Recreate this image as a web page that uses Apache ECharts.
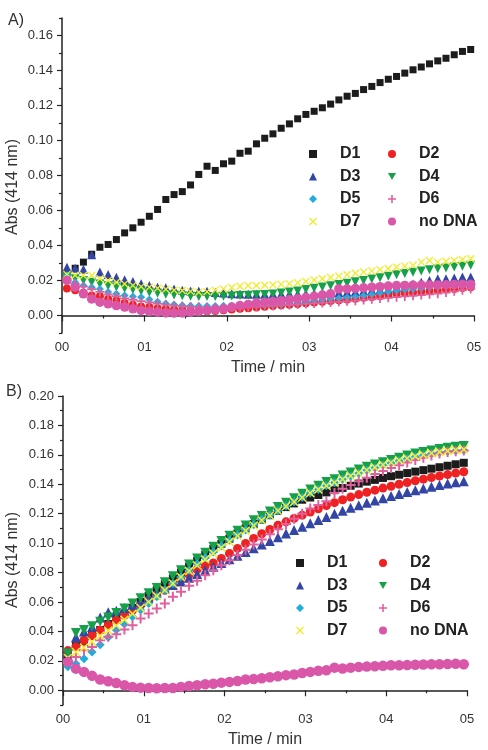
<!DOCTYPE html>
<html><head><meta charset="utf-8">
<script src="https://cdn.jsdelivr.net/npm/echarts@6/dist/echarts.min.js"></script>
<style>html,body{margin:0;padding:0;background:#fff}#c{width:488px;height:750px}</style>
</head><body><div id="c"></div>
<script>
// time points (min)
const time = [0.06,0.16,0.26,0.36,0.46,0.56,0.66,0.76,0.86,0.96,1.06,1.16,1.26,1.36,1.46,1.56,1.66,1.76,1.86,1.96,2.06,2.16,2.26,2.36,2.46,2.56,2.66,2.76,2.86,2.96,3.06,3.16,3.26,3.36,3.46,3.56,3.66,3.76,3.86,3.96,4.06,4.16,4.26,4.36,4.46,4.56,4.66,4.76,4.86,4.96];
const seriesNames = ['D1','D2','D3','D4','D5','D6','D7','no DNA'];
const xTickValues = [0,1,2,3,4,5];
const xTickLabels = ['00','01','02','03','04','05'];
const yTicksA = [0,0.02,0.04,0.06,0.08,0.10,0.12,0.14,0.16];
const yMinorA = [-0.01,0.01,0.03,0.05,0.07,0.09,0.11,0.13,0.15,0.17];
const yTicksB = [0,0.02,0.04,0.06,0.08,0.10,0.12,0.14,0.16,0.18,0.20];
const yMinorB = [-0.01,0.01,0.03,0.05,0.07,0.09,0.11,0.13,0.15,0.17,0.19];

// Panel A
const A_D1 = [0.024,0.027,0.0305,0.035,0.039,0.0406,0.0434,0.0472,0.0501,0.0533,0.0567,0.0606,0.0663,0.0691,0.0708,0.0746,0.0806,0.0853,0.0829,0.0867,0.0882,0.0927,0.0939,0.0981,0.1013,0.1038,0.107,0.1095,0.1124,0.1149,0.1167,0.1187,0.1208,0.1232,0.1253,0.1269,0.1291,0.1309,0.1331,0.135,0.1366,0.1385,0.1404,0.142,0.1438,0.1455,0.147,0.149,0.1509,0.152];
const A_D2 = [0.0155,0.0145,0.013,0.0115,0.011,0.0095,0.0086,0.0072,0.0062,0.0052,0.0048,0.0042,0.0038,0.0034,0.0032,0.0029,0.0025,0.0024,0.0026,0.003,0.0034,0.0038,0.0042,0.0046,0.005,0.0054,0.0058,0.0062,0.0066,0.007,0.0075,0.0079,0.0083,0.0087,0.0091,0.0096,0.0101,0.0106,0.0112,0.0118,0.0124,0.0128,0.0132,0.0136,0.014,0.0144,0.0148,0.0152,0.0157,0.0162];
const A_D3 = [0.0276,0.027,0.0265,0.0347,0.0248,0.0234,0.0219,0.0204,0.0195,0.0181,0.0171,0.0162,0.0158,0.0152,0.0145,0.014,0.014,0.0138,0.0132,0.0128,0.0125,0.0123,0.0122,0.0122,0.0122,0.0123,0.0123,0.0124,0.0124,0.0125,0.0126,0.0127,0.0128,0.013,0.0133,0.0136,0.014,0.0144,0.0148,0.0152,0.016,0.017,0.018,0.019,0.02,0.021,0.021,0.0215,0.022,0.022];
const A_D4 = [0.022,0.021,0.02,0.019,0.018,0.017,0.0163,0.0155,0.0148,0.014,0.0133,0.0127,0.0122,0.0117,0.0113,0.011,0.0108,0.0108,0.0109,0.011,0.0112,0.0114,0.0116,0.0118,0.012,0.0123,0.0128,0.0134,0.014,0.0148,0.0156,0.0163,0.017,0.0177,0.0185,0.0193,0.02,0.0208,0.0216,0.0225,0.0233,0.024,0.0247,0.0254,0.0261,0.0267,0.0272,0.0277,0.0282,0.0287];
const A_D5 = [0.023,0.019,0.0171,0.0162,0.0152,0.0135,0.0124,0.0114,0.0109,0.0105,0.0092,0.0078,0.0068,0.0063,0.0058,0.0056,0.0055,0.0055,0.0055,0.0056,0.0056,0.0057,0.0057,0.0058,0.0058,0.006,0.0063,0.0067,0.0072,0.0078,0.0085,0.009,0.0095,0.0099,0.0103,0.0107,0.0113,0.012,0.0128,0.0136,0.0143,0.0148,0.0152,0.0156,0.016,0.0163,0.0166,0.0168,0.017,0.0172];
const A_D6 = [0.021,0.018,0.0165,0.015,0.0135,0.012,0.011,0.0098,0.009,0.0082,0.0075,0.0068,0.0062,0.0057,0.0053,0.005,0.0048,0.0046,0.0045,0.0045,0.0046,0.0047,0.0048,0.005,0.0052,0.0055,0.0058,0.006,0.0063,0.0066,0.0069,0.0072,0.0075,0.0078,0.0081,0.0085,0.0089,0.0093,0.0097,0.0101,0.0105,0.0109,0.0113,0.0117,0.0121,0.0125,0.0131,0.0138,0.0145,0.0152];
const A_D7 = [0.0235,0.023,0.0229,0.0229,0.021,0.02,0.019,0.018,0.0172,0.0165,0.0162,0.0156,0.015,0.0145,0.0143,0.0138,0.0133,0.0136,0.0145,0.0152,0.016,0.0167,0.0171,0.0171,0.0173,0.0175,0.0178,0.0181,0.0187,0.0195,0.0203,0.021,0.0217,0.0225,0.0233,0.0241,0.0248,0.0255,0.0262,0.0269,0.0276,0.0282,0.0288,0.0305,0.0314,0.0305,0.031,0.0315,0.032,0.0324];
const A_noDNA = [0.020,0.0162,0.0124,0.0095,0.0076,0.0067,0.0057,0.0048,0.0038,0.0029,0.0023,0.0019,0.0015,0.0014,0.0015,0.0019,0.0023,0.0029,0.0034,0.0038,0.0048,0.0057,0.0063,0.0072,0.0076,0.008,0.0085,0.009,0.0096,0.0103,0.011,0.0117,0.0124,0.0152,0.0152,0.0155,0.0158,0.0162,0.0165,0.0168,0.0171,0.0172,0.0173,0.0174,0.0175,0.0175,0.0176,0.0177,0.0178,0.0178];

// Panel B
const B_D1 = [0.024,0.030,0.033,0.037,0.041,0.045,0.0485,0.052,0.056,0.060,0.064,0.068,0.072,0.076,0.080,0.084,0.088,0.092,0.096,0.0995,0.103,0.1065,0.110,0.113,0.116,0.119,0.122,0.1245,0.127,0.1295,0.131,0.1327,0.1345,0.136,0.1375,0.139,0.1405,0.1418,0.143,0.1443,0.1455,0.1465,0.1476,0.1486,0.1496,0.1506,0.1516,0.1526,0.1536,0.1546];
const B_D2 = [0.027,0.0295,0.034,0.0374,0.0408,0.0442,0.0476,0.051,0.0544,0.0578,0.0612,0.0646,0.068,0.0714,0.075,0.0785,0.082,0.0845,0.0865,0.0896,0.093,0.0964,0.0998,0.1032,0.1064,0.1093,0.1122,0.1145,0.1168,0.119,0.1212,0.1234,0.1255,0.1275,0.1295,0.1313,0.133,0.1346,0.136,0.1374,0.1387,0.14,0.1412,0.1424,0.1435,0.1446,0.1456,0.1466,0.1476,0.1485];
const B_D3 = [0.026,0.036,0.040,0.043,0.0495,0.053,0.054,0.056,0.058,0.060,0.063,0.0665,0.069,0.0715,0.074,0.0765,0.079,0.0815,0.084,0.0865,0.089,0.0915,0.094,0.0965,0.099,0.1015,0.104,0.1065,0.109,0.1112,0.1135,0.1157,0.1178,0.120,0.122,0.124,0.1258,0.1275,0.129,0.1305,0.132,0.1334,0.1347,0.136,0.1372,0.1384,0.1395,0.1405,0.1413,0.142];
const B_D4 = [0.025,0.039,0.041,0.0435,0.0465,0.0495,0.0525,0.0555,0.059,0.0625,0.066,0.0695,0.0735,0.0775,0.0815,0.0855,0.0895,0.0935,0.0975,0.1015,0.105,0.1085,0.112,0.1155,0.1185,0.1215,0.1245,0.1275,0.1305,0.1335,0.1365,0.139,0.1415,0.1435,0.146,0.148,0.150,0.152,0.1535,0.155,0.1565,0.158,0.1595,0.161,0.162,0.163,0.164,0.1648,0.1655,0.166];
const B_D5 = [0.016,0.018,0.0215,0.026,0.031,0.036,0.041,0.045,0.050,0.0545,0.059,0.0635,0.068,0.0725,0.077,0.0815,0.086,0.090,0.094,0.098,0.102,0.1055,0.109,0.1125,0.116,0.119,0.122,0.125,0.128,0.131,0.134,0.1365,0.139,0.1412,0.1435,0.1455,0.1475,0.1495,0.1512,0.153,0.1545,0.156,0.1574,0.1587,0.1598,0.1608,0.1616,0.1623,0.1628,0.1632];
const B_D6 = [0.020,0.0227,0.0272,0.0295,0.034,0.0363,0.038,0.0413,0.0442,0.0488,0.0522,0.0556,0.059,0.0635,0.0669,0.071,0.0744,0.0782,0.0816,0.085,0.0884,0.092,0.0955,0.099,0.1025,0.106,0.1095,0.113,0.1165,0.12,0.1235,0.126,0.1285,0.134,0.137,0.1395,0.142,0.1445,0.147,0.149,0.151,0.153,0.1548,0.1565,0.158,0.1595,0.161,0.162,0.1625,0.163];
const B_D7 = [0.022,0.026,0.029,0.033,0.037,0.0405,0.044,0.048,0.052,0.056,0.060,0.064,0.068,0.0725,0.077,0.081,0.085,0.089,0.093,0.097,0.101,0.105,0.1085,0.112,0.1155,0.1188,0.122,0.125,0.128,0.131,0.134,0.1365,0.139,0.1412,0.1435,0.1457,0.1478,0.1497,0.1515,0.1532,0.1548,0.1563,0.1577,0.159,0.1601,0.1611,0.162,0.1627,0.1633,0.1637];
const B_noDNA = [0.0193,0.0147,0.0125,0.0098,0.0073,0.0061,0.005,0.0034,0.0023,0.0018,0.0016,0.0014,0.0016,0.0016,0.0023,0.0029,0.0034,0.0041,0.0045,0.0052,0.0057,0.0063,0.0073,0.0077,0.0082,0.0088,0.0095,0.0103,0.0107,0.0118,0.0125,0.0132,0.0136,0.0154,0.0148,0.0154,0.0159,0.0161,0.0163,0.0166,0.017,0.017,0.0171,0.0173,0.0175,0.0177,0.0177,0.0178,0.018,0.0177];

const panelA = [A_D1,A_D2,A_D3,A_D4,A_D5,A_D6,A_D7,A_noDNA];
const panelB = [B_D1,B_D2,B_D3,B_D4,B_D5,B_D6,B_D7,B_noDNA];

const FONT = "'Liberation Sans', Arial, sans-serif";
const styles = [
  {symbol:'rect', size:7, color:'#1c1c1c'},
  {symbol:'circle', size:8, color:'#ee2222'},
  {symbol:'triangle', size:9, color:'#3346a6'},
  {symbol:'path://M0,0L10,0L5,8.7Z', size:9, color:'#17a04a'},
  {symbol:'diamond', size:8, color:'#1eaede'},
  {symbol:'path://M4,0H6V4H10V6H6V10H4V6H0V4H4Z', size:9, color:'#e0609e'},
  {symbol:'path://M0,1.2L1.2,0L5,3.8L8.8,0L10,1.2L6.2,5L10,8.8L8.8,10L5,6.2L1.2,10L0,8.8L3.8,5Z', size:8, color:'#f0ec30'},
  {symbol:'circle', size:9.5, color:'#d956a8'}
];

function mkSeries(arr, idx, grow){
  return arr.map((vals,i)=>({
    type:'scatter', name:seriesNames[i], xAxisIndex:idx*2, yAxisIndex:idx*2,
    symbol:styles[i].symbol, symbolSize:styles[i].size + grow,
    itemStyle:{color:styles[i].color, opacity:1},
    data: time.map((t,j)=>[t, vals[j]]),
    silent:true, animation:false
  }));
}

function xAxes(grid){
  return [{
    type:'value', gridIndex:grid, min:0, max:5, interval:1,
    axisLine:{show:true, lineStyle:{color:'#222', width:1.5}},
    axisTick:{show:true, length:6, lineStyle:{color:'#222', width:1.2}},
    minorTick:{show:true, splitNumber:2, length:3, lineStyle:{color:'#222', width:1.2}},
    splitLine:{show:false},
    axisLabel:{color:'#333', fontSize:13, fontFamily:FONT, margin:8,
      formatter:v=>{const k=xTickValues.indexOf(Math.round(v)); return k>=0?xTickLabels[k]:'';}},
    name:'Time / min', nameLocation:'middle', nameGap:27,
    nameTextStyle:{color:'#333', fontSize:16, fontFamily:FONT}
  },{
    type:'value', gridIndex:grid, min:0, max:5, show:false
  }];
}
function yAxes(grid, min, max, majors, minors){
  return [{
    type:'value', gridIndex:grid, min:min, max:max,
    axisLine:{show:true, onZero:false, lineStyle:{color:'#222', width:1.5}},
    axisTick:{show:true, length:5, customValues:majors, lineStyle:{color:'#222', width:1.2}},
    splitLine:{show:false},
    axisLabel:{color:'#333', fontSize:13, fontFamily:FONT, margin:9, customValues:majors,
      formatter:v=>v.toFixed(2)}
  },{
    type:'value', gridIndex:grid, min:min, max:max, position:'left',
    axisLine:{show:false},
    axisTick:{show:true, length:3, customValues:minors, lineStyle:{color:'#222', width:1.2}},
    axisLabel:{show:false}, splitLine:{show:false}
  }];
}

function legends(leftA, leftB, top){
  const base = {orient:'vertical', itemWidth:8, itemHeight:8, itemGap:6.5, selectedMode:false,
    textStyle:{fontSize:16, fontWeight:'bold', color:'#222', fontFamily:FONT, lineHeight:16, padding:[0,0,0,18]}, padding:0};
  return [
    Object.assign({}, base, {left:leftA, top:top, data:['D1','D3','D5','D7']}),
    Object.assign({}, base, {left:leftB, top:top, data:['D2','D4','D6','no DNA']})
  ];
}

const chart = echarts.init(document.getElementById('c'), null, {renderer:'canvas'});
const xa = xAxes(0), xb = xAxes(1);
xb[1].gridIndex = 1;
const option = {
  animation:false,
  backgroundColor:'#fff',
  grid:[
    {left:62, top:18, width:412, height:315},
    {left:63, top:396, width:404, height:309}
  ],
  xAxis:[xa[0], xa[1], xb[0], xb[1]],
  yAxis:[...yAxes(0,-0.01,0.17,yTicksA,yMinorA), ...yAxes(1,-0.01,0.20,yTicksB,yMinorB)],
  legend:[...legends(309,388,146), ...legends(296,379,555)],
  series:[...mkSeries(panelA,0,0), ...mkSeries(panelB,1,1)],
  graphic:[
    {type:'text', left:8, top:13, style:{text:'A)', fontSize:16, fill:'#333', fontFamily:FONT}},
    {type:'text', left:6, top:384, style:{text:'B)', fontSize:16, fill:'#333', fontFamily:FONT}},
    {type:'text', x:13, y:187, rotation:Math.PI/2, style:{text:'Abs (414 nm)', fontSize:16, fill:'#333', fontFamily:FONT, align:'center', verticalAlign:'middle'}},
    {type:'text', x:13, y:560, rotation:Math.PI/2, style:{text:'Abs (414 nm)', fontSize:16, fill:'#333', fontFamily:FONT, align:'center', verticalAlign:'middle'}}
  ]
};
chart.setOption(option);
</script>
</body></html>
